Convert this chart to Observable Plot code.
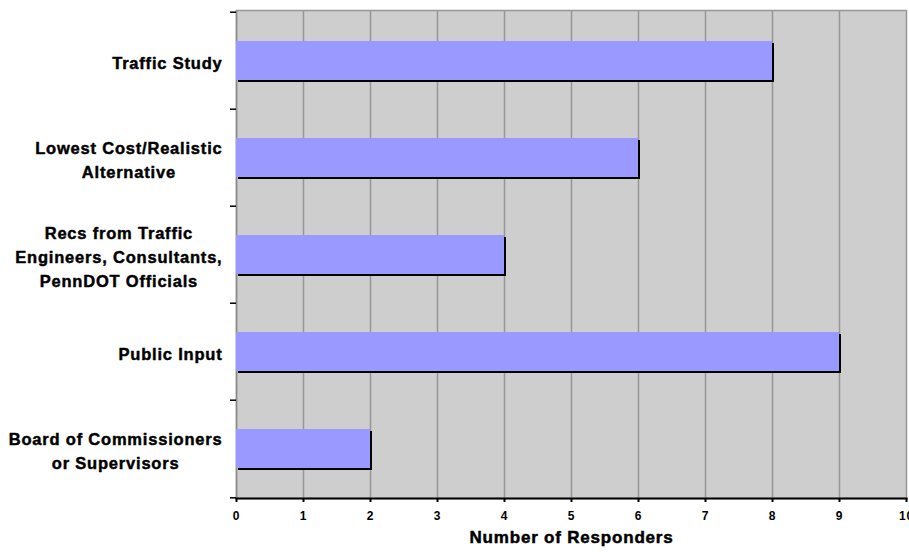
<!DOCTYPE html>
<html>
<head>
<meta charset="utf-8">
<script src="https://cdn.jsdelivr.net/npm/d3@7"></script>
<script src="https://cdn.jsdelivr.net/npm/@observablehq/plot@0.6"></script>
<style>
  html, body { margin: 0; padding: 0; background: #fff; }
</style>
</head>
<body>
<div id="chart"></div>
<script>
const categories = [
  "Traffic Study",
  "Lowest Cost/Realistic\nAlternative",
  "Recs from Traffic\nEngineers, Consultants,\nPennDOT Officials",
  "Public Input",
  "Board of Commissioners\nor Supervisors"
];
const values = [8, 6, 4, 9, 2];
const xTicks = [0, 1, 2, 3, 4, 5, 6, 7, 8, 9, 10];
const xLabel = "Number of Responders";

const data = categories.map((c, i) => ({category: c, value: values[i]}));

const W = 909, H = 552, mL = 236, mR = 3, mT = 10, mB = 54;
const step = (H - mT - mB) / categories.length;
const FONT = "'Liberation Sans', Arial, sans-serif";
const LS = 0.8;
const labelSize = 16.5;

const ctx = document.createElement("canvas").getContext("2d");
ctx.font = `bold ${labelSize}px ${FONT}`;
function blockWidth(t) {
  return d3.max(t.split("\n"), l => ctx.measureText(l).width + LS * l.length);
}

const labelMarks = categories.map(c => Plot.text([c], {
  y: d => d,
  text: d => d,
  frameAnchor: "left",
  textAnchor: "middle",
  lineAnchor: "middle",
  lineHeight: 1.45,
  dx: -14 - blockWidth(c) / 2,
  fontSize: labelSize,
  fontWeight: "bold",
  fill: "#000",
  stroke: "#000",
  strokeWidth: 0.45
}));

const chart = Plot.plot({
  width: W,
  height: H,
  marginLeft: mL,
  marginRight: mR,
  marginTop: mT,
  marginBottom: mB,
  style: {background: "#fff", fontFamily: FONT, letterSpacing: LS + "px", color: "#000"},
  x: {domain: [0, 10]},
  y: {domain: categories, paddingInner: 0.6, paddingOuter: 0.3},
  marks: [
    Plot.frame({fill: "#cecece", stroke: "#969696", strokeWidth: 1.5}),
    Plot.ruleX(xTicks.slice(1, -1), {stroke: "#969696", strokeWidth: 1.5}),
    Plot.ruleX([0], {stroke: "#8a8a8a", strokeWidth: 1.5}),
    Plot.barX(data, {x: "value", y: "category", fill: "#000", dx: 2, dy: 2}),
    Plot.barX(data, {x: "value", y: "category", fill: "#9999ff"}),
    Plot.frame({anchor: "bottom", stroke: "#000", strokeWidth: 2}),
    Plot.axisX(xTicks, {
      tickSize: 4, tickPadding: 9, strokeWidth: 2, stroke: "#000",
      fontSize: 12, fontWeight: "bold", label: null, tickFormat: d => String(d)
    }),
    Plot.axisY(categories, {tickSize: 6, dy: -step / 2, strokeWidth: 1.5, stroke: "#000", tickFormat: () => "", label: null}),
    Plot.axisY([categories[categories.length - 1]], {tickSize: 6, dy: step / 2, strokeWidth: 1.5, stroke: "#000", tickFormat: () => "", label: null}),
    ...labelMarks,
    Plot.text([xLabel], {text: d => d, frameAnchor: "bottom", dy: 44, fontSize: 17, fontWeight: "bold", fill: "#000", stroke: "#000", strokeWidth: 0.5})
  ]
});

document.getElementById("chart").appendChild(chart);
</script>
</body>
</html>
